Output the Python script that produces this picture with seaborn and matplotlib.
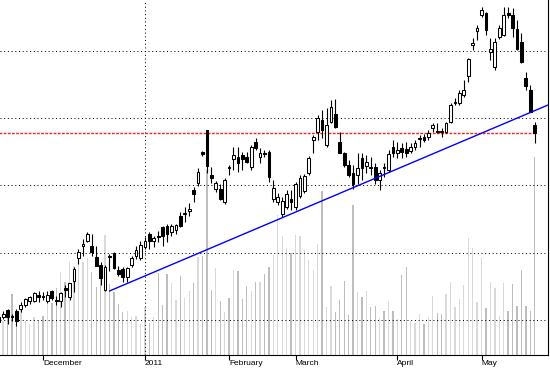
import numpy as np
import pandas as pd
import matplotlib
matplotlib.use("Agg")
import matplotlib.pyplot as plt
import seaborn as sns
from matplotlib.transforms import ScaledTranslation

# ---- data (price in chart units, one entry per trading day) ----
day = list(range(122))
open_ = [38, 38, 45, 39, 44, 46, 50, 54, 54, 60,
         59, 54, 64, 55, 54, 67, 58, 74, 97, 109,
         114, 109, 98, 90, 65, 99, 102, 85, 86, 78,
         90, 99, 97, 108, 121, 114, 119, 128, 129, 123,
         125, 139, 141, 144, 165, 172, 203, 225, 180, 166,
         166, 153, 188, 196, 198, 200, 198, 188, 213, 198,
         202, 203, 156, 153, 141, 148, 156, 148, 159, 164,
         182, 215, 223, 235, 210, 233, 241, 213, 202, 190,
         182, 180, 197, 189, 188, 188, 175, 188, 185, 208,
         202, 207, 206, 204, 208, 216, 218, 218, 227, 224,
         224, 223, 233, 252, 252, 260, 279, 310, 324, 340,
         342, 303, 288, 318, 320, 342, 340, 326, 313, 277,
         265, 230]
close = [33, 41, 38, 38, 34, 50, 56, 58, 62, 58,
         58, 60, 57, 54, 62, 65, 72, 86, 103, 111,
         121, 103, 89, 77, 88, 98, 87, 81, 78, 87,
         97, 105, 110, 114, 114, 117, 118, 119, 121, 129,
         130, 129, 142, 146, 161, 183, 201, 189, 177, 172,
         156, 175, 187, 200, 192, 196, 193, 208, 207, 202,
         201, 178, 167, 158, 154, 161, 153, 171, 177, 179,
         197, 218, 237, 225, 230, 248, 228, 202, 190, 180,
         171, 187, 187, 193, 187, 175, 182, 187, 201, 202,
         205, 203, 202, 208, 212, 217, 215, 222, 230, 223,
         223, 232, 250, 253, 262, 265, 296, 312, 327, 345,
         325, 306, 313, 327, 340, 340, 327, 306, 293, 269,
         243, 222]
high = [41, 44, 46, 41, 46, 53, 57, 59, 63, 64,
        63, 64, 65, 59, 63, 70, 72, 88, 106, 116,
        123, 121, 109, 93, 90, 101, 103, 89, 88, 88,
        99, 109, 114, 118, 123, 119, 124, 129, 131, 131,
        131, 143, 148, 152, 168, 187, 204, 225, 188, 174,
        171, 177, 190, 208, 208, 203, 203, 210, 217, 207,
        205, 205, 175, 162, 158, 165, 165, 173, 180, 181,
        199, 220, 240, 245, 247, 255, 256, 223, 203, 195,
        190, 202, 202, 200, 198, 192, 185, 192, 205, 215,
        213, 212, 213, 212, 215, 220, 221, 225, 232, 232,
        227, 233, 252, 257, 265, 275, 297, 317, 330, 348,
        343, 317, 317, 330, 348, 348, 347, 335, 322, 283,
        270, 233]
low = [30, 36, 31, 34, 29, 43, 48, 51, 53, 53,
       55, 52, 55, 50, 48, 58, 55, 63, 91, 99,
       113, 99, 89, 70, 64, 84, 86, 79, 73, 73,
       88, 96, 95, 106, 106, 108, 113, 109, 113, 119,
       121, 128, 133, 139, 153, 169, 199, 182, 172, 163,
       155, 151, 180, 185, 183, 185, 192, 185, 205, 192,
       198, 173, 153, 150, 138, 146, 145, 145, 157, 162,
       180, 202, 215, 217, 208, 232, 227, 202, 188, 178,
       166, 171, 175, 182, 180, 171, 165, 178, 183, 198,
       197, 197, 198, 202, 205, 208, 213, 215, 223, 222,
       218, 222, 232, 250, 250, 258, 273, 305, 315, 338,
       320, 295, 285, 316, 319, 337, 318, 305, 292, 265,
       243, 212]
volume = [40, 34, 41, 61, 42, 48, 34, 31, 38, 35,
          39, 51, 52, 67, 83, 73, 93, 89, 91, 93,
          97, 83, 68, 84, 120, 71, 63, 51, 43, 44,
          38, 39, 31, 48, 32, 38, 82, 50, 81, 72,
          55, 79, 57, 64, 72, 98, 99, 185, 65, 87,
          54, 43, 57, 85, 84, 56, 69, 64, 73, 73,
          81, 88, 100, 140, 119, 107, 102, 120, 119, 105,
          95, 85, 111, 164, 48, 69, 43, 55, 74, 40,
          150, 63, 58, 64, 48, 49, 37, 44, 54, 44,
          36, 80, 88, 34, 32, 41, 31, 38, 59, 42,
          41, 61, 73, 48, 56, 70, 117, 107, 53, 97,
          47, 73, 67, 39, 72, 44, 71, 49, 85, 49,
          44, 198]

tick_pos = [10, 33, 52, 67, 90, 109]
tick_labels = ["December", "2011", "February", "March", "April", "May"]
grid_levels = [35, 102, 170, 237, 304]
year_line = 33
trend_x = [25, 124]
trend_y = [64, 250]

# ---- style ----
sns.set_theme(style="white")
plt.rcParams["font.family"] = ["Liberation Sans", "DejaVu Sans"]

fig = plt.figure(figsize=(5.5, 3.68), dpi=100)
ax = fig.add_axes([0, 13 / 368, 548 / 550, 355 / 368])

df = pd.DataFrame(dict(day=day, open=open_, high=high, low=low,
                       close=close, volume=volume))
df["dir"] = np.where(df["close"] >= df["open"], "up", "down")

# volume bars (background)
sns.barplot(data=df, x="day", y="volume", hue="dir",
            palette={"up": "#d9d9d9", "down": "#bdbdbd"},
            native_scale=True, width=0.3, dodge=False, legend=False,
            errorbar=None, saturation=1, linewidth=0, ax=ax)
for p in ax.patches:
    p.set_antialiased(False)
    p.set_zorder(1)

# grid
dot = (0, (1, 2.7))
for g in grid_levels:
    ax.axhline(g, color="black", lw=0.72, ls=dot, zorder=2)
ax.axvline(year_line, color="black", lw=0.72, ls=dot, zorder=2)

# last close level
ax.hlines(close[-1], -1, day[-1], color="#ff2020", lw=1.0,
          ls=(0, (2, 1)), zorder=2)

# candles
ax.vlines(df["day"], df["low"], df["high"], color="black", lw=0.8, zorder=3)
body_lo = np.minimum(df["open"], df["close"])
body_h = np.maximum(np.abs(df["close"] - df["open"]), 0.8)
faces = np.where(df["dir"] == "up", "white", "black")
ax.bar(df["day"], body_h, bottom=body_lo, width=0.62, color=faces,
       edgecolor="black", linewidth=0.75, zorder=4)

# trend line
sns.lineplot(x=trend_x, y=trend_y, color="#0000ff", lw=1.0, ax=ax, zorder=5)

ax.set_xlim(0.29, 124.0)
ax.set_ylim(0, 355)
ax.set_xlabel("")
ax.set_ylabel("")
ax.set_yticks([])
ax.set_xticks(tick_pos)
ax.set_xticklabels(tick_labels, fontsize=6.0, color="black", ha="left")
off = ScaledTranslation(2 / 100, 1.5 / 100, fig.dpi_scale_trans)
for lab in ax.get_xticklabels():
    lab.set_transform(lab.get_transform() + off)
ax.tick_params(axis="x", length=3.5, width=0.8, color="black", pad=0,
               direction="out", bottom=True)
for s in ["top", "left"]:
    ax.spines[s].set_visible(False)
for s in ["right", "bottom"]:
    ax.spines[s].set_visible(True)
    ax.spines[s].set_color("black")
    ax.spines[s].set_linewidth(0.8)
ax.set_facecolor("white")
fig.patch.set_facecolor("white")

fig.savefig("out.png", dpi=100)
